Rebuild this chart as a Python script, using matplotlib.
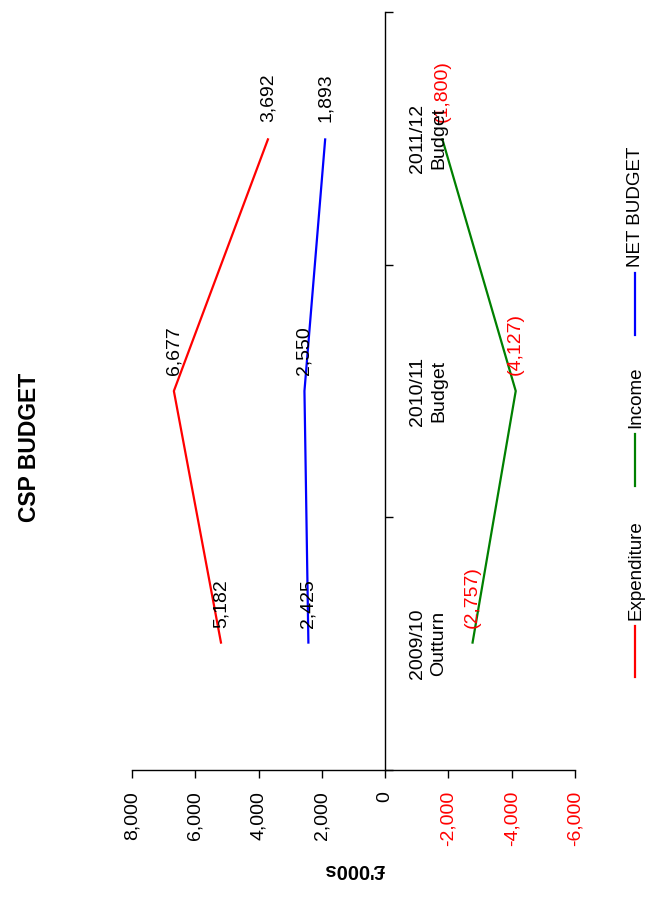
import matplotlib
matplotlib.use("Agg")
import matplotlib.pyplot as plt
from matplotlib.lines import Line2D

plt.rcParams['font.family'] = ['Liberation Sans', 'DejaVu Sans']

# Data
categories = ["2009/10\nOutturn", "2010/11\nBudget", "2011/12\nBudget"]
expenditure = [5182, 6677, 3692]
income = [-2757, -4127, -1800]
net_budget = [2425, 2550, 1893]
value_ticks = [8000, 6000, 4000, 2000, 0, -2000, -4000, -6000]

W, H = 664, 906
fig = plt.figure(figsize=(W / 100, H / 100), dpi=100)


def px(x, y):
    """Pixel position (origin top-left) to figure fraction."""
    return x / W, 1 - y / H


left, right, top, bottom = 132, 575, 12, 770
ax = fig.add_axes([left / W, 1 - bottom / H, (right - left) / W, (bottom - top) / H])

ax.set_xlim(8000, -6000)
ax.set_ylim(0, len(categories))

pos = [i + 0.5 for i in range(len(categories))]
series = [
    ("Expenditure", expenditure, "#ff0000"),
    ("Income", income, "#008000"),
    ("NET BUDGET", net_budget, "#0000ff"),
]
for name, vals, col in series:
    ax.plot(vals, pos, color=col, lw=1.6, solid_capstyle='butt')

# value labels
for name, vals, col in series:
    for v, p in zip(vals, pos):
        if v < 0:
            txt, tcol = "({:,})".format(-v), "#ff0000"
        else:
            txt, tcol = "{:,}".format(v), "black"
        ax.annotate(txt, (v, p), xytext=(0, 16), textcoords='offset pixels',
                    rotation=90, ha='center', va='bottom', fontsize=14, color=tcol)

# spines: value axis along the bottom, category axis at zero
for s in ['top', 'right']:
    ax.spines[s].set_visible(False)
ax.spines['left'].set_position(('data', 0))
ax.spines['left'].set_linewidth(1.0)
ax.spines['bottom'].set_linewidth(1.0)

ax.set_yticks(range(len(categories) + 1))
ax.set_yticklabels([])
ax.tick_params(axis='y', direction='in', length=6, width=1.0)

ax.set_xticks(value_ticks)
ax.set_xticklabels(["{:,}".format(v) for v in value_ticks], rotation=90, fontsize=14)
ax.tick_params(axis='x', direction='out', length=6, width=1.0, pad=9)
for lbl, v in zip(ax.get_xticklabels(), value_ticks):
    lbl.set_color('#ff0000' if v < 0 else 'black')
    lbl.set_va('top')

# category labels next to the zero line
for c, p in zip(categories, pos):
    ax.annotate(c, (0, p), xytext=(43, 0), textcoords='offset pixels',
                rotation=90, ha='center', va='center', fontsize=14,
                multialignment='center', linespacing=1.3)

# title and value-axis label
fig.text(*px(30, 447), "CSP BUDGET", rotation=90, ha='center', va='center',
         fontsize=16.5, fontweight='bold')
fig.text(*px(354, 869), "£'000s", rotation=180, ha='center', va='center',
         fontsize=14.5, fontweight='bold')

# legend: short line followed by its label
legend_items = [
    ("Expenditure", "#ff0000", (626, 677), 620),
    ("Income", "#008000", (434, 486), 428),
    ("NET BUDGET", "#0000ff", (273, 335), 267),
]
for name, col, (y0, y1), ty in legend_items:
    xa, ya = px(635, y0)
    xb, yb = px(635, y1)
    fig.add_artist(Line2D([xa, xb], [ya, yb], color=col, lw=1.6,
                          transform=fig.transFigure))
    fig.text(*px(636, ty), name, rotation=90, ha='center', va='bottom', fontsize=13.5)

fig.savefig("out.png", dpi=100)
